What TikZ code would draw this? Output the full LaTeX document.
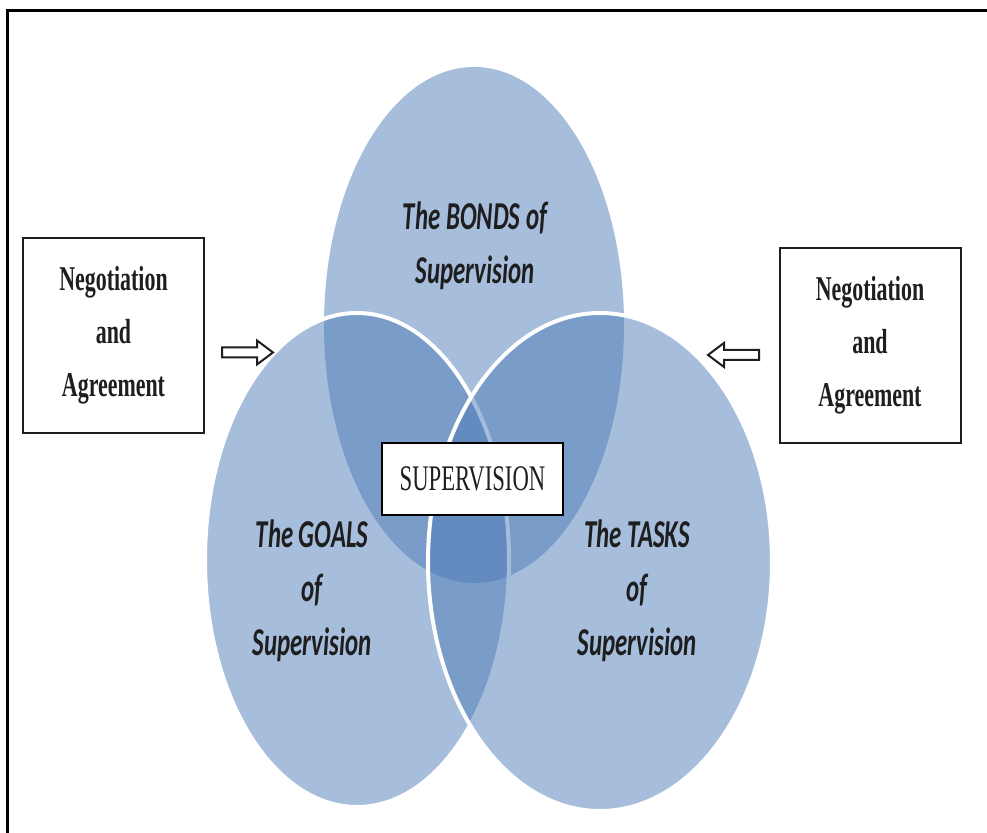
\documentclass[tikz,border=0pt]{standalone}
\usepackage{fontspec}

\newfontfamily\boxfont[FakeStretch=0.63]{Liberation Serif}
\newfontfamily\lblfont[FakeStretch=0.63]{Carlito}

\definecolor{vennblue}{RGB}{77,123,183}
\definecolor{inkgray}{RGB}{30,30,30}

\tikzset{
  venn/.style={fill=vennblue, fill opacity=0.5},
  vennrim/.style={venn, draw=white, line width=2pt},
  negbox/.style={draw=inkgray, line width=1pt, fill=white, minimum width=90.5pt,
    minimum height=97.5pt, inner sep=0pt, align=center, text=inkgray,
    font=\boxfont\bfseries\fontsize{17.4}{26.5}\selectfont},
  corebox/.style={draw=black, line width=1.1pt, fill=white, minimum width=90.5pt,
    minimum height=36pt, inner sep=0pt, text=inkgray,
    font=\boxfont\fontsize{18}{20}\selectfont},
  hollowarrow/.style={draw=inkgray, line width=1pt, fill=white, line join=miter},
  circlelabel/.style={align=center, text=inkgray,
    font=\lblfont\bfseries\itshape\fontsize{19.75}{27}\selectfont},
}

\begin{document}
\begin{tikzpicture}[x=0.5pt, y=-0.5pt]

  \useasboundingbox (0,0) rectangle (987,833);

  % ====================================================
  % FRAME (cut off at right and bottom)
  % ====================================================
  \draw[line width=1.5pt] (7,833) -- (7,11) -- (987,11);

  % ====================================================
  % THE THREE OVERLAPPING CIRCLES
  % ====================================================

  % TOP: Bonds
  \fill[venn] (474,325) ellipse [x radius=150, y radius=258];

  % LEFT: Goals
  \filldraw[vennrim] (357,560) ellipse [x radius=152, y radius=247];

  % RIGHT: Tasks
  \filldraw[vennrim] (600,562) ellipse [x radius=172, y radius=249];

  \node[circlelabel] (bondslabel) at (475,246) {The BONDS of\\Supervision};
  \node[circlelabel] (goalslabel) at (312,591) {The GOALS\\of\\Supervision};
  \node[circlelabel] (taskslabel) at (637,591) {The TASKS\\of\\Supervision};

  % centre of the overlap
  \node[corebox] (core) at (472.5,479) {SUPERVISION};

  % ====================================================
  % SIDE BOXES AND HOLLOW ARROWS
  % ====================================================
  \node[negbox] (leftbox) at (113.5,335.5) {Negotiation\\and\\Agreement};
  \node[negbox] (rightbox) at (870,345.5) {Negotiation\\and\\Agreement};

  % left arrow points right, right arrow points left
  \draw[hollowarrow] (222,347.5) -- (257,347.5) -- (257,340.5) -- (273,352.5)
    -- (257,364.5) -- (257,357.5) -- (222,357.5) -- cycle;
  \draw[hollowarrow] (759,350) -- (724,350) -- (724,343) -- (708,355)
    -- (724,367) -- (724,360) -- (759,360) -- cycle;

\end{tikzpicture}
\end{document}
